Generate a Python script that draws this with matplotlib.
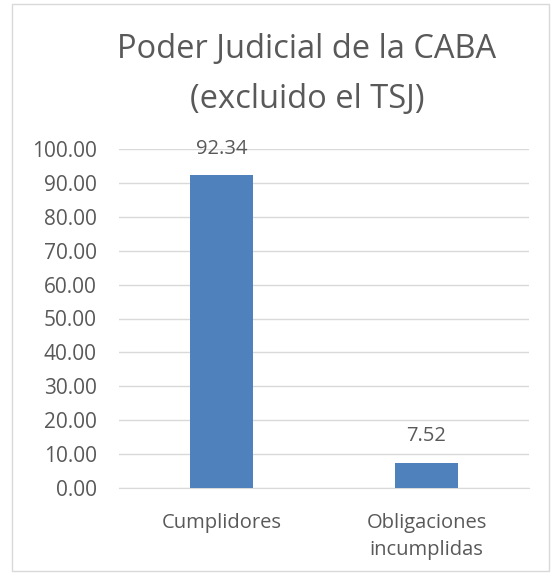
import numpy as np
import matplotlib.pyplot as plt
from matplotlib.patches import Rectangle

categorias = ['Cumplidores', 'Obligaciones\nincumplidas']
valores = [92.34, 7.52]
etiquetas_y = np.arange(0, 101, 10)

plt.rcParams['font.family'] = ['Open Sans', 'DejaVu Sans']
gris = '#595959'

fig = plt.figure(figsize=(5.53, 5.76), dpi=100)
fig.patch.set_facecolor('white')

# marco del gráfico
fig.patches.append(Rectangle((12/553, 5/576), 537/553, 567/576, transform=fig.transFigure,
                             fill=False, edgecolor='#D9D9D9', linewidth=1))

ax = fig.add_axes([119/553, 1 - 488/576, 410/553, 339/576])
x = np.arange(len(categorias))
barras = ax.bar(x, valores, width=0.31, color='#4F81BD', zorder=3)

ax.set_xlim(-0.5, 1.5)
ax.set_ylim(0, 100)
ax.set_yticks(etiquetas_y)
ax.set_yticklabels([f'{v:.2f}' for v in etiquetas_y], color=gris, fontsize=15)
ax.set_xticks(x)
ax.set_xticklabels(categorias, color=gris, fontsize=14.5, linespacing=1.45)
ax.tick_params(axis='y', length=0, pad=16)
ax.tick_params(axis='x', length=0, pad=18)
ax.grid(axis='y', color='#D9D9D9', linewidth=1, zorder=0)
for s in ['top', 'right', 'left']:
    ax.spines[s].set_visible(False)
ax.spines['bottom'].set_color('#D9D9D9')

for b, v in zip(barras, valores):
    ax.annotate(f'{v:.2f}', (b.get_x() + b.get_width() / 2, v), xytext=(0, 19),
                textcoords='offset points', ha='center', va='center', color=gris, fontsize=14.5)

fig.text(307/553, 1 - 50/576, 'Poder Judicial de la CABA', ha='center', va='center',
         color=gris, fontsize=23.5)
fig.text(307/553, 1 - 100/576, '(excluido el TSJ)', ha='center', va='center',
         color=gris, fontsize=23.5)

plt.savefig('out.png', dpi=100)
